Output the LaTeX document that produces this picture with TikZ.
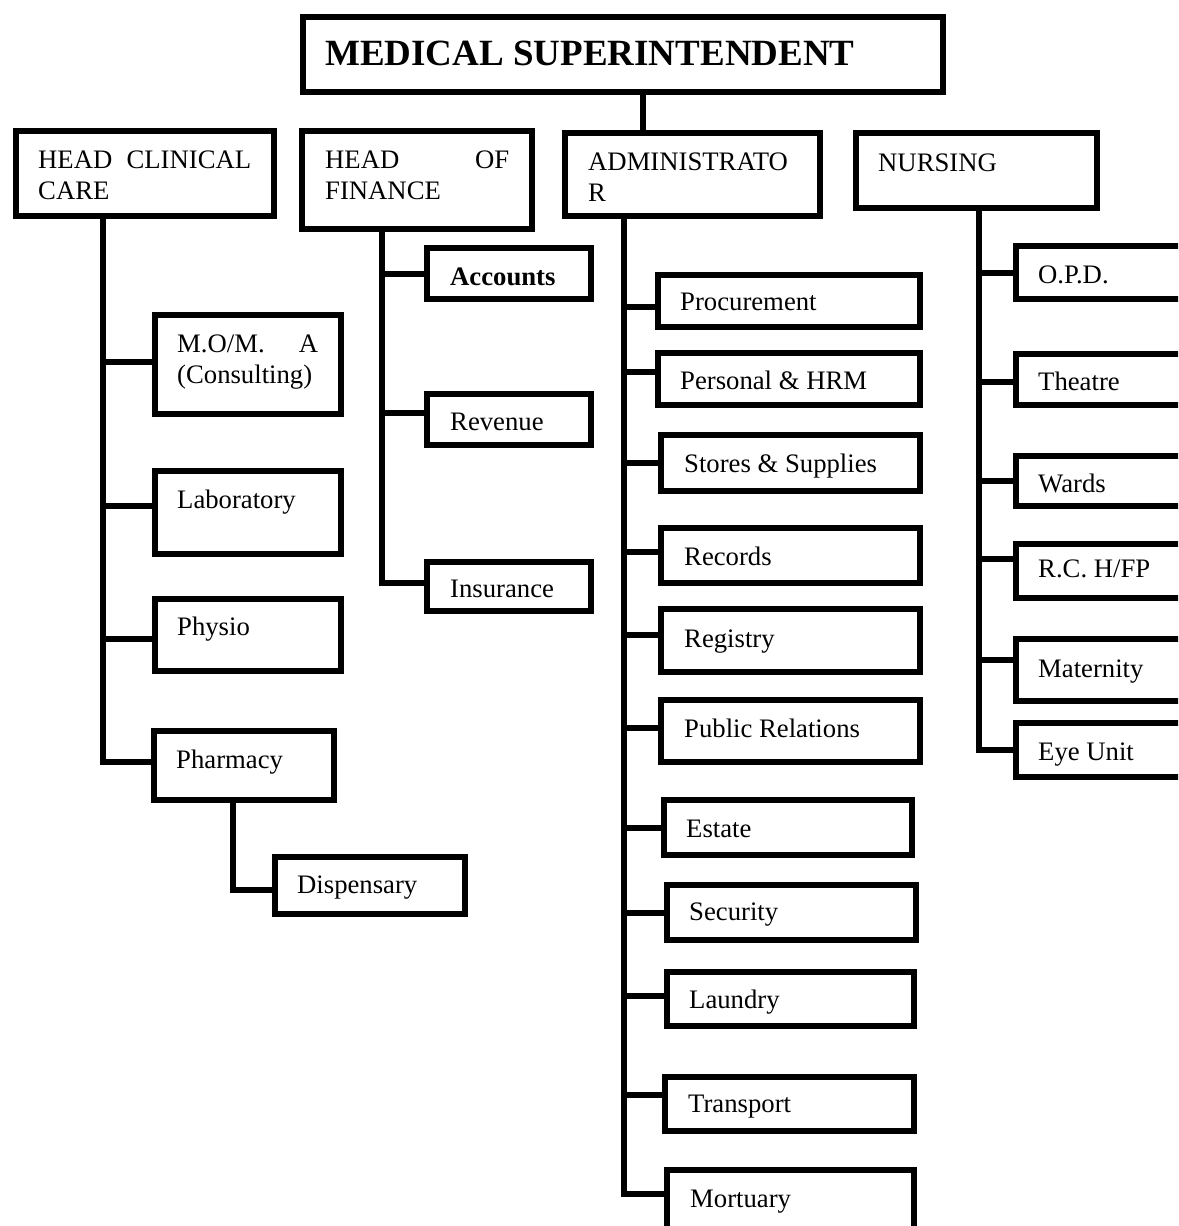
\documentclass[tikz,border=0pt]{standalone}
\usepackage{fontspec}
\setmainfont{Liberation Serif}
\begin{document}
\begin{tikzpicture}[x=1pt,y=-1pt,
  box/.style={draw=black,line width=6pt,fill=white,inner sep=0pt,rectangle},
  conn/.style={draw=black,line width=6pt},
  txt/.style={inner sep=0pt,anchor=base west,font=\fontsize{26.7}{31}\selectfont},
  ttl/.style={inner sep=0pt,anchor=base west,font=\fontsize{37}{44}\selectfont\bfseries}]
\useasboundingbox (0,0) rectangle (1178,1226);
\clip (0,0) rectangle (1178,1226);
\fill[white] (0,0) rectangle (1178,1226);
\newcommand\mybox[5]{%
  \pgfmathsetmacro\cx{(#2+#4)/2}\pgfmathsetmacro\cy{(#3+#5)/2}%
  \pgfmathsetmacro\ww{#4-#2-6}\pgfmathsetmacro\hh{#5-#3-6}%
  \node[box,minimum width=\ww pt,minimum height=\hh pt] (#1) at (\cx,\cy) {};}
\newcommand\brn[3]{\draw[conn] ([yshift=#3]#2.west) -- ([yshift=#3]#2.west -| #1);}
% boxes
\mybox{ms}{300}{14}{946}{95}
\mybox{hcc}{13}{128}{277}{219}
\mybox{hof}{299}{128}{535}{232}
\mybox{adm}{562}{130}{823}{219}
\mybox{nur}{853}{130}{1100}{211}
\mybox{moma}{152}{312}{344}{417}
\mybox{lab}{152}{468}{344}{557}
\mybox{phy}{152}{596}{344}{674}
\mybox{phar}{151}{728}{337}{803}
\mybox{disp}{272}{854}{468}{917}
\mybox{acc}{424}{245}{594}{302}
\mybox{rev}{424}{391}{594}{448}
\mybox{ins}{424}{559}{594}{614}
\mybox{proc}{655}{272}{923}{330}
\mybox{pers}{655}{350}{923}{408}
\mybox{stor}{658}{432}{923}{494}
\mybox{rec}{658}{525}{923}{586}
\mybox{reg}{658}{606}{923}{675}
\mybox{pr}{658}{697}{923}{765}
\mybox{est}{661}{797}{915}{858}
\mybox{sec}{664}{882}{919}{943}
\mybox{lau}{664}{969}{917}{1029}
\mybox{tra}{662}{1074}{917}{1134}
\mybox{mor}{664}{1167}{917}{1232}
\mybox{opd}{1013}{243}{1200}{302}
\mybox{the}{1013}{351}{1200}{408}
\mybox{war}{1013}{453}{1200}{509}
\mybox{rch}{1013}{541}{1200}{601}
\mybox{mat}{1013}{636}{1200}{704}
\mybox{eye}{1013}{720}{1200}{780}
% trunk tops
\coordinate (mst) at ([xshift=343pt]ms.south west);
\coordinate (hct) at ([xshift=90pt]hcc.south west);
\coordinate (hft) at ([xshift=83pt]hof.south west);
\coordinate (adt) at ([xshift=62pt]adm.south west);
\coordinate (nut) at ([xshift=126pt]nur.south west);
\coordinate (pht) at ([xshift=82pt]phar.south west);
% connectors
\draw[conn] (mst) -- (mst |- adm.north);
% clinical care
\draw[conn] (hct) |- ([yshift=3.5pt]phar.west);
\brn{hct}{moma}{2.5pt}
\brn{hct}{lab}{6.5pt}
\brn{hct}{phy}{-4pt}
\draw[conn] (pht) |- ([yshift=-4.5pt]disp.west);
% finance
\draw[conn] (hft) |- ([yshift=3.5pt]ins.west);
\brn{hft}{acc}{0pt}
\brn{hft}{rev}{6.5pt}
% administrator
\draw[conn] (adt) |- ([yshift=5.5pt]mor.west);
\brn{adt}{proc}{-6pt}
\brn{adt}{pers}{7pt}
\brn{adt}{stor}{0pt}
\brn{adt}{rec}{3.5pt}
\brn{adt}{reg}{5.5pt}
\brn{adt}{pr}{3pt}
\brn{adt}{est}{0pt}
\brn{adt}{sec}{0pt}
\brn{adt}{lau}{3pt}
\brn{adt}{tra}{9pt}
% nursing
\draw[conn] (nut) |- (eye.west);
\brn{nut}{opd}{0pt}
\brn{nut}{the}{-2.5pt}
\brn{nut}{war}{0pt}
\brn{nut}{rch}{12pt}
\brn{nut}{mat}{10pt}
% texts
\node[ttl] (tms) at (325,65) {MEDICAL SUPERINTENDENT};
\node[txt] (thcc1) at (38,168) {\makebox[213pt][s]{HEAD CLINICAL}};
\node[txt] (thcc2) at (38,199) {CARE};
\node[txt] (thof1) at (325,168) {\makebox[184pt][s]{HEAD OF}};
\node[txt] (thof2) at (325,199) {FINANCE};
\node[txt] (tadm1) at (588,170) {ADMINISTRATO};
\node[txt] (tadm2) at (588,201) {R};
\node[txt] (tnur) at (878,171) {NURSING};
\node[txt,font=\fontsize{26.7}{31}\selectfont\bfseries] (tacc) at (450,285) {Accounts};
\node[txt] (trev) at (450,430) {Revenue};
\node[txt] (tins) at (450,597) {Insurance};
\node[txt] (tmoma1) at (177,352) {\makebox[141pt][s]{M.O/M. A}};
\node[txt] (tmoma2) at (177,383) {(Consulting)};
\node[txt] (tlab) at (177,508) {Laboratory};
\node[txt] (tphy) at (177,635) {Physio};
\node[txt] (tphar) at (176,768) {Pharmacy};
\node[txt] (tdisp) at (297,893) {Dispensary};
\node[txt] (tproc) at (680,310) {Procurement};
\node[txt] (tpers) at (680,389) {Personal \& HRM};
\node[txt] (tstor) at (684,472) {Stores \& Supplies};
\node[txt] (trec) at (684,565) {Records};
\node[txt] (treg) at (684,647) {Registry};
\node[txt] (tpr) at (684,737) {Public Relations};
\node[txt] (test) at (686,837) {Estate};
\node[txt] (tsec) at (689,920) {Security};
\node[txt] (tlau) at (689,1008) {Laundry};
\node[txt] (ttra) at (688,1112) {Transport};
\node[txt] (tmor) at (690,1207) {Mortuary};
\node[txt] (topd) at (1038,283) {O.P.D.};
\node[txt] (tthe) at (1038,390) {Theatre};
\node[txt] (twar) at (1038,492) {Wards};
\node[txt] (trch) at (1038,577) {R.C. H/FP};
\node[txt] (tmat) at (1038,677) {Maternity};
\node[txt] (teye) at (1038,760) {Eye Unit};
\end{tikzpicture}
\end{document}
